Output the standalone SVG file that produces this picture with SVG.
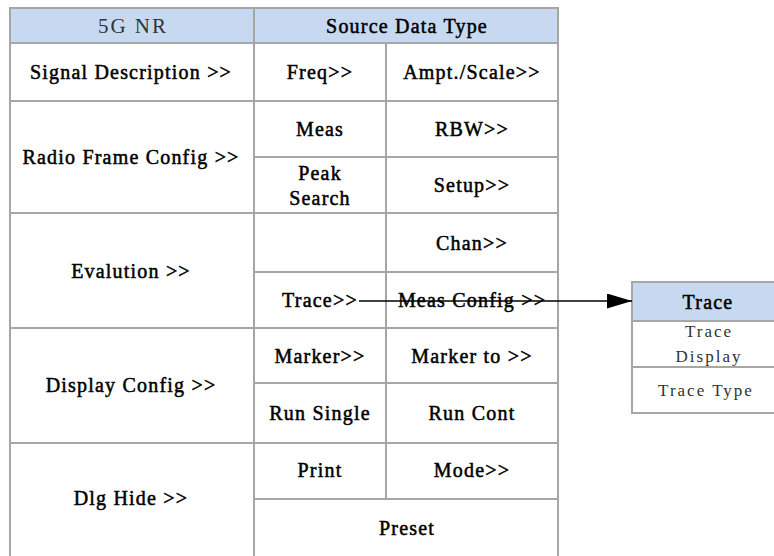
<svg xmlns="http://www.w3.org/2000/svg" width="774" height="556" viewBox="0 0 774 556">
<style>
.cell{fill:#ffffff;stroke:#a6a6a6;stroke-width:2}
.hdr{fill:#c6d9f1;stroke:#a6a6a6;stroke-width:2}
.t{font-family:"Liberation Serif","DejaVu Serif",serif;font-size:20px;letter-spacing:1.2px;fill:#000;stroke:#000;stroke-width:0.5;text-anchor:middle;dominant-baseline:central}
.tl{font-family:"Liberation Serif","DejaVu Serif",serif;font-size:17px;letter-spacing:2px;fill:#333;text-anchor:middle;dominant-baseline:central}
.tb{font-family:"Liberation Serif","DejaVu Serif",serif;font-size:21px;letter-spacing:2px;fill:#333;text-anchor:middle;dominant-baseline:central}
.conn{stroke:#000;stroke-width:1.5;fill:none}
</style>
<defs>
<marker id="arr" viewBox="0 0 25 15" refX="25" refY="7.5" markerWidth="25" markerHeight="15" markerUnits="userSpaceOnUse" orient="auto">
<path d="M0,0 L25,7.5 L0,15 z" fill="#000"/>
</marker>
</defs>
<rect x="0" y="0" width="774" height="556" fill="#fff"/>
<g id="header-5gnr"><rect class="hdr" x="10" y="8" width="244" height="35"/><text class="tb" x="133" y="26">5G NR</text></g>
<g id="header-source"><rect class="hdr" x="254" y="8" width="304" height="35"/><text class="t" x="407" y="26">Source Data Type</text></g>
<g id="signal-description"><rect class="cell" x="10" y="43" width="244" height="58"/><text class="t" x="131" y="72">Signal Description &gt;&gt;</text></g>
<g id="radio-frame-config"><rect class="cell" x="10" y="101" width="244" height="112"/><text class="t" x="131" y="157">Radio Frame Config &gt;&gt;</text></g>
<g id="evalution"><rect class="cell" x="10" y="213" width="244" height="115"/><text class="t" x="131" y="271">Evalution &gt;&gt;</text></g>
<g id="display-config"><rect class="cell" x="10" y="328" width="244" height="115"/><text class="t" x="131" y="385">Display Config &gt;&gt;</text></g>
<g id="dlg-hide"><rect class="cell" x="10" y="443" width="244" height="120"/><text class="t" x="131" y="498">Dlg Hide &gt;&gt;</text></g>
<g id="freq"><rect class="cell" x="254" y="43" width="132" height="58"/><text class="t" x="320" y="72">Freq&gt;&gt;</text></g>
<g id="ampt-scale"><rect class="cell" x="386" y="43" width="172" height="58"/><text class="t" x="472" y="72">Ampt./Scale&gt;&gt;</text></g>
<g id="meas"><rect class="cell" x="254" y="101" width="132" height="56"/><text class="t" x="320" y="129">Meas</text></g>
<g id="rbw"><rect class="cell" x="386" y="101" width="172" height="56"/><text class="t" x="472" y="129">RBW&gt;&gt;</text></g>
<g id="peak-search"><rect class="cell" x="254" y="157" width="132" height="56"/><text class="t" x="320" y="173">Peak</text><text class="t" x="320" y="198">Search</text></g>
<g id="setup"><rect class="cell" x="386" y="157" width="172" height="56"/><text class="t" x="472" y="185">Setup&gt;&gt;</text></g>
<g id="empty-cell"><rect class="cell" x="254" y="213" width="132" height="59"/></g>
<g id="chan"><rect class="cell" x="386" y="213" width="172" height="59"/><text class="t" x="472" y="243">Chan&gt;&gt;</text></g>
<g id="trace-btn"><rect class="cell" x="254" y="272" width="132" height="56"/><text class="t" x="320" y="300">Trace&gt;&gt;</text></g>
<g id="meas-config"><rect class="cell" x="386" y="272" width="172" height="56"/><text class="t" x="472" y="300">Meas Config &gt;&gt;</text></g>
<g id="marker"><rect class="cell" x="254" y="328" width="132" height="55"/><text class="t" x="320" y="356">Marker&gt;&gt;</text></g>
<g id="marker-to"><rect class="cell" x="386" y="328" width="172" height="55"/><text class="t" x="472" y="356">Marker to &gt;&gt;</text></g>
<g id="run-single"><rect class="cell" x="254" y="383" width="132" height="60"/><text class="t" x="320" y="413">Run Single</text></g>
<g id="run-cont"><rect class="cell" x="386" y="383" width="172" height="60"/><text class="t" x="472" y="413">Run Cont</text></g>
<g id="print"><rect class="cell" x="254" y="443" width="132" height="56"/><text class="t" x="320" y="470">Print</text></g>
<g id="mode"><rect class="cell" x="386" y="443" width="172" height="56"/><text class="t" x="472" y="470">Mode&gt;&gt;</text></g>
<g id="preset"><rect class="cell" x="254" y="499" width="304" height="64"/><text class="t" x="407" y="528">Preset</text></g>
<g id="trace-menu">
<rect class="hdr" x="632" y="282" width="152" height="39"/><text class="t" x="708" y="302">Trace</text>
<rect class="cell" x="632" y="321" width="152" height="46"/><text class="tl" x="709" y="331">Trace</text><text class="tl" x="709" y="356">Display</text>
<rect class="cell" x="632" y="367" width="152" height="46"/><text class="tl" x="706" y="390">Trace Type</text>
</g>
<g id="connectors">
<line class="conn" x1="359" y1="301" x2="632" y2="301" marker-end="url(#arr)"/>
</g>
</svg>
